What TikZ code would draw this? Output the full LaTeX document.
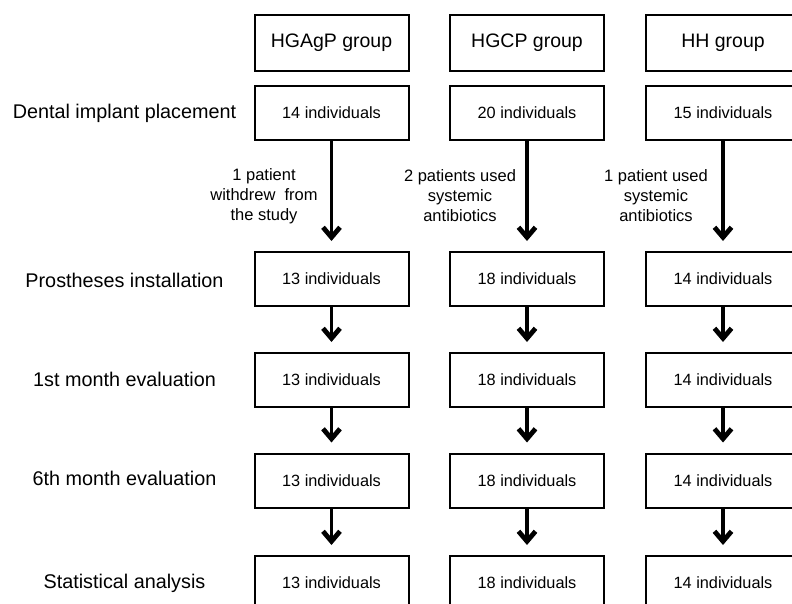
\documentclass[tikz,border=0pt]{standalone}
\usepackage{fontspec}
\setmainfont{Liberation Sans}
\usetikzlibrary{arrows.meta}
\tikzset{
  grpbox/.style={draw, line width=2pt, minimum width=154pt, minimum height=56pt, inner sep=0pt, font=\fontsize{19.5}{23}\selectfont},
  indbox/.style={draw, line width=2pt, minimum width=154pt, minimum height=54pt, inner sep=0pt, font=\fontsize{16.3}{20}\selectfont},
  stagelbl/.style={inner sep=0pt, font=\fontsize{19.8}{24}\selectfont},
  arrlbl/.style={inner sep=0pt, align=center, font=\fontsize{16.5}{20}\selectfont},
  flow/.style={line width=3.8pt, -{Straight Barb[length=10pt,width=17pt,line width=4.8pt]}, shorten >=10pt}
}
\begin{document}
\begin{tikzpicture}[x=1pt,y=-1pt]
\clip (0,0) rectangle (792,604);
\fill[white] (0,0) rectangle (792,604);
% group headers
\node[grpbox] (g1) at (331.5,43) {HGAgP group};
\node[grpbox] (g2) at (527,43) {HGCP group};
\node[grpbox] (g3) at (723,43) {HH group};
% stage labels
\node[stagelbl] (s1) at (124.5,113) {Dental implant placement};
\node[stagelbl] (s2) at (124.5,280) {Prostheses installation};
\node[stagelbl] (s3) at (124.5,379) {1st month evaluation};
\node[stagelbl] (s4) at (124.5,478) {6th month evaluation};
\node[stagelbl] (s5) at (124.5,583) {Statistical analysis};
% row 1
\node[indbox] (a1) at (331.5,113) {14 individuals};
\node[indbox] (b1) at (527,113) {20 individuals};
\node[indbox] (c1) at (723,113) {15 individuals};
% row 2
\node[indbox] (a2) at (331.5,279) {13 individuals};
\node[indbox] (b2) at (527,279) {18 individuals};
\node[indbox] (c2) at (723,279) {14 individuals};
% row 3
\node[indbox] (a3) at (331.5,380) {13 individuals};
\node[indbox] (b3) at (527,380) {18 individuals};
\node[indbox] (c3) at (723,380) {14 individuals};
% row 4
\node[indbox] (a4) at (331.5,480.5) {13 individuals};
\node[indbox] (b4) at (527,480.5) {18 individuals};
\node[indbox] (c4) at (723,480.5) {14 individuals};
% row 5
\node[indbox] (a5) at (331.5,583) {13 individuals};
\node[indbox] (b5) at (527,583) {18 individuals};
\node[indbox] (c5) at (723,583) {14 individuals};
% arrow labels
\node[arrlbl] (la) at (264,196) {1 patient\\withdrew\ \ from\\the study};
\node[arrlbl] (lb) at (460,196) {2 patients used\\systemic\\antibiotics};
\node[arrlbl] (lc) at (656,196) {1 patient used\\systemic\\antibiotics};
% arrows
\foreach \c in {a,b,c}{
  \draw[flow] (\c1.south) -- (\c2.north);
  \draw[flow] (\c2.south) -- (\c3.north);
  \draw[flow] (\c3.south) -- (\c4.north);
  \draw[flow] (\c4.south) -- (\c5.north);
}
\end{tikzpicture}
\end{document}
